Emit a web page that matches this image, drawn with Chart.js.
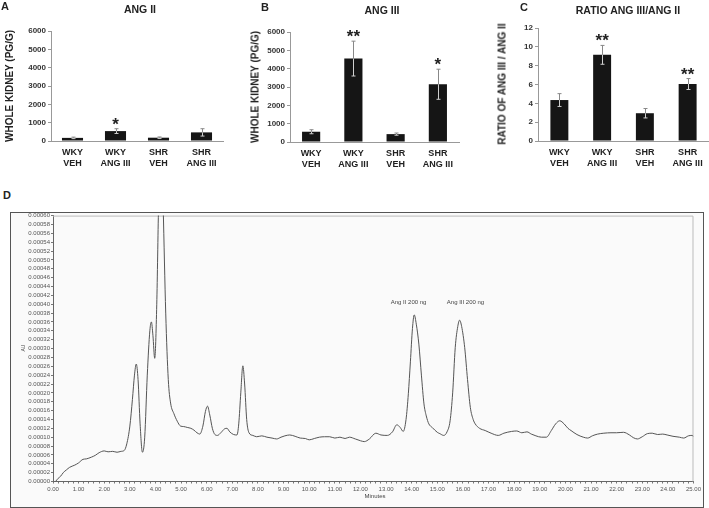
<!DOCTYPE html>
<html>
<head>
<meta charset="utf-8">
<script src="https://cdn.jsdelivr.net/npm/chart.js@4.4.1/dist/chart.umd.min.js"></script>
<style>
  body { margin:0; background:#fff; width:709px; height:508px; position:relative; overflow:hidden; font-family:"Liberation Sans", Arial, sans-serif; }
  canvas { position:absolute; }
  .lbl { position:absolute; font-weight:bold; color:#222; white-space:nowrap; transform:translate(-50%,-50%); }
  .vlbl { position:absolute; font-weight:bold; color:#222; white-space:nowrap; transform:translate(-50%,-50%) rotate(-90deg); }
  .small { position:absolute; color:#444; white-space:nowrap; transform:translate(-50%,-50%); }
  #boxD { position:absolute; left:10px; top:212px; width:692px; height:294px; border:1px solid #555; background:#fafafa; }
</style>
</head>
<body>
<div id="boxD"></div>
<canvas id="chartA" width="235" height="180" style="left:0;top:0"></canvas>
<canvas id="chartB" width="235" height="180" style="left:235px;top:0"></canvas>
<canvas id="chartC" width="239" height="180" style="left:470px;top:0"></canvas>
<canvas id="chartD" width="692" height="297" style="left:11px;top:211px"></canvas>

<div class="lbl" style="left:5px;top:6px;font-size:11px">A</div>
<div class="lbl" style="left:265px;top:7px;font-size:11px">B</div>
<div class="lbl" style="left:524px;top:7px;font-size:11px">C</div>
<div class="lbl" style="left:7px;top:195px;font-size:11px">D</div>
<div class="lbl" style="left:140px;top:9px;font-size:10.5px">ANG II</div>
<div class="lbl" style="left:382px;top:10px;font-size:10.5px">ANG III</div>
<div class="lbl" style="left:628px;top:10px;font-size:10.5px">RATIO ANG III/ANG II</div>
<div class="vlbl" style="left:9px;top:86px;font-size:10px">WHOLE KIDNEY (PG/G)</div>
<div class="vlbl" style="left:255px;top:87px;font-size:10px">WHOLE KIDNEY (PG/G)</div>
<div class="vlbl" style="left:502px;top:84px;font-size:10px">RATIO OF ANG III / ANG II</div>
<div class="small" style="left:23px;top:348px;font-size:5px;transform:translate(-50%,-50%) rotate(-90deg)">AU</div>
<div class="small" style="left:375px;top:496px;font-size:6px">Minutes</div>

<script>
// --- data ---
var groups = [['WKY', 'VEH'], ['WKY', 'ANG III'], ['SHR', 'VEH'], ['SHR', 'ANG III']];

var angII = [170, 540, 180, 470];
var angIIErr = [40, 130, 40, 200];
var angIIStars = ['', '*', '', ''];

var angIII = [560, 4550, 430, 3150];
var angIIIErr = [110, 950, 60, 820];
var angIIIStars = ['', '**', '', '*'];

var ratio = [4.35, 9.15, 2.95, 6.05];
var ratioErr = [0.68, 1.0, 0.5, 0.58];
var ratioStars = ['', '**', '', '**'];

// chromatogram (minutes / AU)
var minutes = [0.10, 0.20, 0.30, 0.40, 0.52, 0.65, 0.85, 1.00, 1.17, 1.30, 1.50, 1.65, 1.80, 2.00, 2.15, 2.33, 2.50, 2.65, 2.78, 2.88,
  3.00, 3.10, 3.18, 3.25, 3.32, 3.40, 3.49, 3.58, 3.68, 3.78, 3.84, 3.90, 3.97, 4.05, 4.12, 4.22, 4.30, 4.40, 4.50, 4.59,
  4.72, 4.85, 4.98, 5.10, 5.24, 5.38, 5.50, 5.62, 5.73, 5.85, 5.95, 6.03, 6.12, 6.22, 6.32, 6.42, 6.55, 6.70, 6.79, 6.90,
  7.05, 7.18, 7.25, 7.33, 7.41, 7.48, 7.56, 7.65, 7.80, 7.95, 8.15, 8.35, 8.55, 8.73, 8.90, 9.05, 9.24, 9.45, 9.65, 9.85,
  10.0, 10.2, 10.4, 10.6, 10.8, 11.0, 11.2, 11.4, 11.57, 11.8, 12.0, 12.15, 12.35, 12.6, 12.8, 13.05, 13.25, 13.42, 13.55, 13.67,
  13.78, 13.87, 13.95, 14.03, 14.10, 14.18, 14.28, 14.38, 14.48, 14.57, 14.67, 14.80, 15.0, 15.1, 15.25, 15.38, 15.5, 15.6, 15.7, 15.8,
  15.87, 15.95, 16.07, 16.18, 16.29, 16.4, 16.48, 16.65, 16.87, 17.1, 17.38, 17.6, 17.9, 18.1, 18.3, 18.5, 18.67, 18.85, 19.06, 19.26,
  19.45, 19.62, 19.78, 19.95, 20.1, 20.22, 20.45, 20.7, 20.87, 21.05, 21.26, 21.5, 21.78, 22.0, 22.27, 22.5, 22.65, 22.81, 23.0, 23.2,
  23.39, 23.6, 23.8, 23.97, 24.2, 24.45, 24.62, 24.8, 24.94, 25.0];
var absorbance = [0.000000, 0.000007, 0.000012, 0.000020, 0.000026, 0.000032, 0.000037, 0.000042, 0.000050, 0.000051, 0.000055, 0.000059, 0.000065, 0.000069, 0.000067, 0.000068, 0.000066, 0.000068, 0.000070, 0.000085,
  0.000125, 0.000185, 0.000240, 0.000265, 0.000230, 0.000130, 0.000066, 0.000100, 0.000240, 0.000340, 0.000360, 0.000330, 0.000278, 0.000400, 0.000620, 0.000800, 0.000620, 0.000380, 0.000230, 0.000177,
  0.000153, 0.000136, 0.000125, 0.000124, 0.000122, 0.000120, 0.000116, 0.000110, 0.000107, 0.000125, 0.000158, 0.000170, 0.000150, 0.000120, 0.000106, 0.000104, 0.000110, 0.000119, 0.000120, 0.000112,
  0.000106, 0.000105, 0.000130, 0.000200, 0.000261, 0.000220, 0.000140, 0.000110, 0.000104, 0.000101, 0.000103, 0.000100, 0.000098, 0.000096, 0.000100, 0.000103, 0.000105, 0.000102, 0.000098, 0.000097,
  0.000094, 0.000097, 0.000100, 0.000101, 0.000101, 0.000098, 0.000100, 0.000097, 0.000100, 0.000096, 0.000092, 0.000090, 0.000096, 0.000109, 0.000105, 0.000104, 0.000112, 0.000128, 0.000122, 0.000113,
  0.000140, 0.000198, 0.000270, 0.000345, 0.000376, 0.000355, 0.000310, 0.000240, 0.000175, 0.000148, 0.000130, 0.000122, 0.000111, 0.000108, 0.000104, 0.000112, 0.000137, 0.000200, 0.000302, 0.000350,
  0.000364, 0.000350, 0.000302, 0.000230, 0.000167, 0.000140, 0.000130, 0.000120, 0.000115, 0.000109, 0.000104, 0.000109, 0.000113, 0.000114, 0.000110, 0.000112, 0.000107, 0.000103, 0.000100, 0.000100,
  0.000115, 0.000130, 0.000137, 0.000130, 0.000120, 0.000115, 0.000106, 0.000100, 0.000098, 0.000103, 0.000107, 0.000109, 0.000110, 0.000110, 0.000111, 0.000105, 0.000099, 0.000096, 0.000101, 0.000108,
  0.000109, 0.000106, 0.000107, 0.000105, 0.000102, 0.000100, 0.000098, 0.000103, 0.000104, 0.000102];

var peakNames = ['Ang II 200 ng', 'Ang III 200 ng'];
var peakNameMinutes = [13.88, 16.1];
var peakNameAU = [0.000404, 0.000404];

// --- error bars + asterisks on the bar panels ---
var errorBarPlugin = {
  id: 'errorBars',
  afterDatasetsDraw: function(chart) {
    var o = chart.options.plugins.errorBars;
    if (!o || !o.values) return;
    var meta = chart.getDatasetMeta(0);
    var yScale = chart.scales.y;
    var ctx = chart.ctx;
    ctx.save();
    ctx.lineWidth = 1;
    meta.data.forEach(function(bar, i) {
      var v = o.values[i], e = o.errors[i];
      var x = Math.round(bar.x) + 0.5;
      var top = yScale.getPixelForValue(v + e);
      var mid = yScale.getPixelForValue(v);
      var bot = yScale.getPixelForValue(v - e);
      // part inside the bar looks light
      ctx.strokeStyle = '#cfcfcf';
      ctx.beginPath();
      ctx.moveTo(x, mid); ctx.lineTo(x, bot);
      ctx.moveTo(x - 2, bot); ctx.lineTo(x + 2, bot);
      ctx.stroke();
      ctx.strokeStyle = '#888';
      ctx.beginPath();
      ctx.moveTo(x, top); ctx.lineTo(x, mid);
      ctx.moveTo(x - 2, top); ctx.lineTo(x + 2, top);
      ctx.stroke();
      if (o.stars[i]) {
        ctx.fillStyle = '#222';
        ctx.font = 'bold 17px "Liberation Sans", Arial';
        ctx.textAlign = 'center';
        ctx.textBaseline = 'alphabetic';
        ctx.fillText(o.stars[i], bar.x, top + 1);
      }
    });
    ctx.restore();
  }
};

function barPanel(id, values, errors, stars, yMax, yStep, area, barPct) {
  var canvas = document.getElementById(id);
  return new Chart(canvas, {
    type: 'bar',
    data: {
      labels: groups,
      datasets: [{ data: values, backgroundColor: '#151515', borderWidth: 0, barPercentage: barPct, categoryPercentage: 1 }]
    },
    options: {
      responsive: false, animation: false,
      layout: { padding: { left: area.left - 25, top: area.top, right: canvas.width - area.right, bottom: canvas.height - area.bottom - 35 } },
      plugins: {
        legend: { display: false }, tooltip: { enabled: false },
        errorBars: { values: values, errors: errors, stars: stars }
      },
      scales: {
        x: {
          afterFit: function(s) { s.height = 35; },
          border: { color: '#999' },
          grid: { display: false, drawTicks: false },
          ticks: { padding: 6, color: '#222', font: { family: 'Liberation Sans', size: 9, weight: 'bold', lineHeight: 1.2 }, maxRotation: 0 }
        },
        y: {
          min: 0, max: yMax,
          afterFit: function(s) { s.width = 25; },
          border: { color: '#999' },
          grid: { drawOnChartArea: false, tickLength: 3, color: '#999' },
          ticks: {
            stepSize: yStep, padding: 2, color: '#333', font: { family: 'Liberation Sans', size: 8, weight: 'bold' },
            callback: function(v) { return String(v); }
          }
        }
      }
    },
    plugins: [errorBarPlugin]
  });
}

barPanel('chartA', angII, angIIErr, angIIStars, 6000, 1000, { left: 51, top: 31, right: 223, bottom: 141 }, 0.49);
barPanel('chartB', angIII, angIIIErr, angIIIStars, 6000, 1000, { left: 55, top: 32, right: 224, bottom: 142 }, 0.43);
barPanel('chartC', ratio, ratioErr, ratioStars, 12, 2, { left: 68, top: 28, right: 239, bottom: 141 }, 0.42);

// --- chromatogram ---
var frameD = {
  id: 'frameD',
  beforeDatasetsDraw: function(chart) {
    var a = chart.chartArea, ctx = chart.ctx;
    ctx.save();
    ctx.strokeStyle = '#bbb';
    ctx.lineWidth = 1;
    ctx.beginPath();
    ctx.moveTo(a.left, a.top + 0.5);
    ctx.lineTo(a.right - 0.5, a.top + 0.5);
    ctx.lineTo(a.right - 0.5, a.bottom);
    ctx.stroke();
    ctx.restore();
  },
  afterDatasetsDraw: function(chart) {
    var ctx = chart.ctx, xs = chart.scales.x, ys = chart.scales.y;
    ctx.save();
    ctx.fillStyle = '#444';
    ctx.font = '6px "Liberation Sans", Arial';
    ctx.textAlign = 'center';
    ctx.textBaseline = 'middle';
    peakNames.forEach(function(name, i) {
      ctx.fillText(name, xs.getPixelForValue(peakNameMinutes[i]), ys.getPixelForValue(peakNameAU[i]));
    });
    ctx.restore();
  }
};

var canvasD = document.getElementById('chartD');
new Chart(canvasD, {
  type: 'line',
  data: {
    datasets: [{
      data: minutes.map(function(t, i) { return { x: t, y: absorbance[i] }; }),
      borderColor: '#555', borderWidth: 1, pointRadius: 0, fill: false,
      cubicInterpolationMode: 'monotone'
    }]
  },
  options: {
    responsive: false, animation: false,
    layout: { padding: { left: 12, top: 4, right: 7, bottom: 6.5 } },
    plugins: { legend: { display: false }, tooltip: { enabled: false } },
    scales: {
      x: {
        type: 'linear', min: 0, max: 25,
        afterFit: function(s) { s.height = 20; },
        border: { color: '#666' },
        grid: { drawOnChartArea: false, tickLength: 2, color: '#777' },
        ticks: {
          stepSize: 0.2, autoSkip: false, maxRotation: 0, padding: 2, color: '#555',
          font: { family: 'Liberation Sans', size: 6 },
          callback: function(v) { return Math.abs(v - Math.round(v)) < 1e-6 ? v.toFixed(2) : ''; }
        }
      },
      y: {
        min: 0, max: 0.0006,
        afterFit: function(s) { s.width = 30; },
        border: { color: '#666' },
        grid: { drawOnChartArea: false, tickLength: 2, color: '#777' },
        ticks: {
          stepSize: 0.00002, autoSkip: false, padding: 1, color: '#555',
          font: { family: 'Liberation Sans', size: 6 },
          callback: function(v) { return v.toFixed(5); }
        }
      }
    }
  },
  plugins: [frameD]
});
</script>
</body>
</html>
